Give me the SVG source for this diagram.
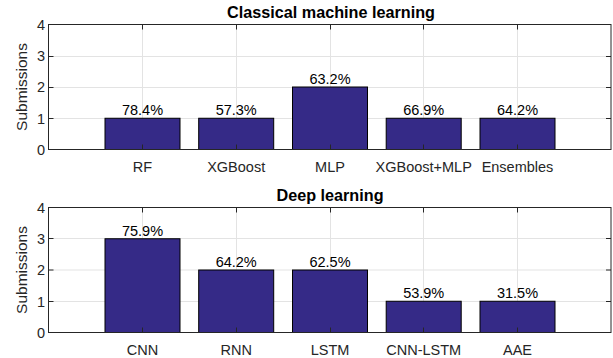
<svg xmlns="http://www.w3.org/2000/svg" width="613" height="358" viewBox="0 0 613 358">
<style>
.bg{fill:#fff}
.grid{stroke:#e3e3e3;stroke-width:1;fill:none}
.axis{stroke:#262626;stroke-width:1;fill:none}
.bar{fill:#352a87;stroke:#000;stroke-width:1}
.tick{font-family:"Liberation Sans",Arial,sans-serif;font-size:14.5px;fill:#262626}
.val{font-family:"Liberation Sans",Arial,sans-serif;font-size:14.5px;fill:#000;text-anchor:middle}
.title{font-family:"Liberation Sans",Arial,sans-serif;font-size:16.2px;font-weight:bold;fill:#000;text-anchor:middle}
.ylab{font-family:"Liberation Sans",Arial,sans-serif;font-size:15.5px;fill:#262626;text-anchor:middle}
</style>
<rect class="bg" x="0" y="0" width="613" height="358"/>

<g id="plot-classical">
  <text class="title" x="331" y="18.3">Classical machine learning</text>
  <g id="grid-top">
    <path class="grid" d="M142.5 24.5V149.5M236.5 24.5V149.5M330.5 24.5V149.5M423.5 24.5V149.5M517.5 24.5V149.5M48.5 56.5H611M48.5 87.5H611M48.5 118.5H611"/>
  </g>
  <g id="bars-top">
    <g id="bar-rf"><rect class="bar" x="105" y="118.25" width="75" height="31.25"/><text class="val" x="142.5" y="115">78.4%</text></g>
    <g id="bar-xgboost"><rect class="bar" x="198.7" y="118.25" width="75" height="31.25"/><text class="val" x="236.2" y="115">57.3%</text></g>
    <g id="bar-mlp"><rect class="bar" x="292.5" y="87" width="75" height="62.5"/><text class="val" x="330" y="84">63.2%</text></g>
    <g id="bar-xgbmlp"><rect class="bar" x="386.2" y="118.25" width="75" height="31.25"/><text class="val" x="423.7" y="115">66.9%</text></g>
    <g id="bar-ensembles"><rect class="bar" x="480" y="118.25" width="75" height="31.25"/><text class="val" x="517.5" y="115">64.2%</text></g>
  </g>
  <g id="axes-top">
    <rect class="axis" x="48.5" y="24.5" width="562.5" height="125"/>
    <path class="axis" d="M48.5 56.5h5M48.5 87.5h5M48.5 118.5h5M611 56.5h-5M611 87.5h-5M611 118.5h-5M142.5 149.5v-5M236.5 149.5v-5M330.5 149.5v-5M423.5 149.5v-5M517.5 149.5v-5M142.5 24.5v5M236.5 24.5v5M330.5 24.5v5M423.5 24.5v5M517.5 24.5v5"/>
  </g>
  <g id="yticks-top" class="tick" text-anchor="end">
    <text x="45" y="30">4</text><text x="45" y="61">3</text><text x="45" y="92.3">2</text><text x="45" y="123.5">1</text><text x="45" y="154.8">0</text>
  </g>
  <g id="xticks-top" class="tick" text-anchor="middle">
    <text x="142.5" y="171.7">RF</text><text x="236.2" y="171.7">XGBoost</text><text x="330" y="171.7">MLP</text><text x="423.7" y="171.7">XGBoost+MLP</text><text x="517.5" y="171.7">Ensembles</text>
  </g>
  <text class="ylab" transform="translate(26.5,87) rotate(-90)">Submissions</text>
</g>

<g id="plot-deep">
  <text class="title" x="330" y="200.7">Deep learning</text>
  <g id="grid-bottom">
    <path class="grid" d="M142.5 207.5V332.5M236.5 207.5V332.5M330.5 207.5V332.5M423.5 207.5V332.5M517.5 207.5V332.5M48.5 238.5H611M48.5 270H611M48.5 301.5H611"/>
  </g>
  <g id="bars-bottom">
    <g id="bar-cnn"><rect class="bar" x="105" y="238.75" width="75" height="93.75"/><text class="val" x="142.5" y="235.5">75.9%</text></g>
    <g id="bar-rnn"><rect class="bar" x="198.7" y="270" width="75" height="62.5"/><text class="val" x="236.2" y="266.8">64.2%</text></g>
    <g id="bar-lstm"><rect class="bar" x="292.5" y="270" width="75" height="62.5"/><text class="val" x="330" y="266.8">62.5%</text></g>
    <g id="bar-cnnlstm"><rect class="bar" x="386.2" y="301.25" width="75" height="31.25"/><text class="val" x="423.7" y="298">53.9%</text></g>
    <g id="bar-aae"><rect class="bar" x="480" y="301.25" width="75" height="31.25"/><text class="val" x="517.5" y="298">31.5%</text></g>
  </g>
  <g id="axes-bottom">
    <rect class="axis" x="48.5" y="207.5" width="562.5" height="125"/>
    <path class="axis" d="M48.5 238.5h5M48.5 270h5M48.5 301.5h5M611 238.5h-5M611 270h-5M611 301.5h-5M142.5 332.5v-5M236.5 332.5v-5M330.5 332.5v-5M423.5 332.5v-5M517.5 332.5v-5M142.5 207.5v5M236.5 207.5v5M330.5 207.5v5M423.5 207.5v5M517.5 207.5v5"/>
  </g>
  <g id="yticks-bottom" class="tick" text-anchor="end">
    <text x="45" y="213">4</text><text x="45" y="244">3</text><text x="45" y="275.3">2</text><text x="45" y="306.5">1</text><text x="45" y="337.8">0</text>
  </g>
  <g id="xticks-bottom" class="tick" text-anchor="middle">
    <text x="142.5" y="354.5">CNN</text><text x="236.2" y="354.5">RNN</text><text x="330" y="354.5">LSTM</text><text x="423.7" y="354.5">CNN-LSTM</text><text x="517.5" y="354.5">AAE</text>
  </g>
  <text class="ylab" transform="translate(26.5,270) rotate(-90)">Submissions</text>
</g>
</svg>
